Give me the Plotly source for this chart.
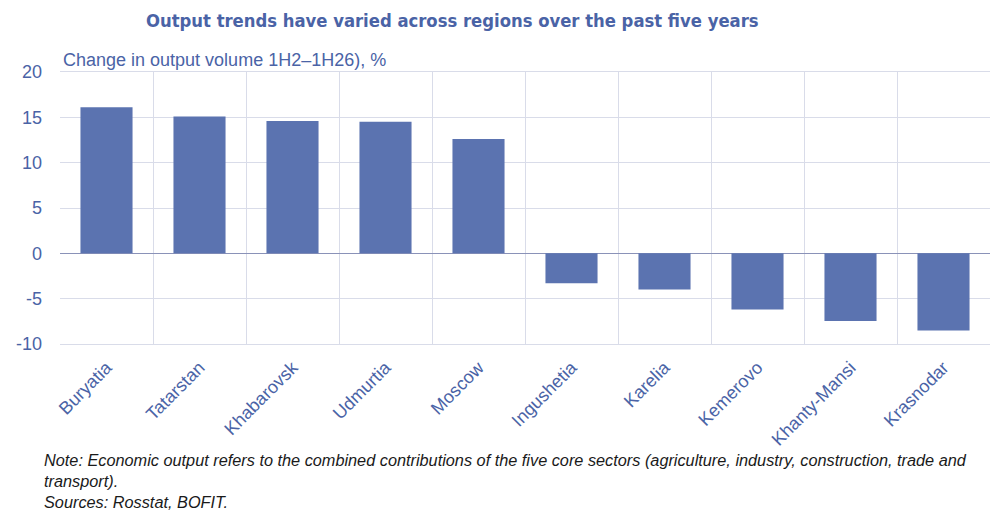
import plotly.graph_objects as go

regions = ["Buryatia", "Tatarstan", "Khabarovsk", "Udmurtia", "Moscow",
           "Ingushetia", "Karelia", "Kemerovo", "Khanty-Mansi", "Krasnodar"]
change_pct = [16.1, 15.1, 14.6, 14.5, 12.6, -3.3, -4.0, -6.2, -7.45, -8.5]
y_ticks = [-10, -5, 0, 5, 10, 15, 20]
y_tick_text = ["-10", "-5", "0", "5", "10", "15", "20"]

BAR = "#5b73b0"
TXT = "#4a63a6"
GRID = "#d9dce9"

fig = go.Figure(go.Bar(x=regions, y=change_pct, marker=dict(color=BAR, line=dict(width=0)),
                       width=0.56))

fig.update_layout(
    width=998, height=520,
    margin=dict(l=52, r=16, t=64, b=184),
    paper_bgcolor="white", plot_bgcolor="white",
    showlegend=False,
    font=dict(family="Liberation Sans, Arial, sans-serif", color=TXT),
)
fig.update_xaxes(
    tickson="boundaries", showgrid=True, gridcolor=GRID, gridwidth=1,
    tickangle=-45, tickfont=dict(size=18, color=TXT),
    ticks="", showline=True, linecolor=GRID, mirror=True,
    ticklabelstandoff=5, automargin=False,
)
fig.update_yaxes(
    range=[-10, 20], tickvals=y_ticks, ticktext=y_tick_text,
    showgrid=True, gridcolor=GRID, gridwidth=1,
    zeroline=True, zerolinecolor="#8a92b8", zerolinewidth=1,
    tickfont=dict(size=18, color=TXT), ticks="", ticklabelstandoff=17,
    showline=False, automargin=False,
)

fig.add_annotation(text="<b>Output trends have varied across regions over the past five years</b>",
                   xref="paper", yref="paper", x=(452 - 60) / 930, xanchor="center",
                   y=(344 - 20) / 272, yanchor="middle", showarrow=False,
                   font=dict(family="DejaVu Sans Condensed, Liberation Sans, sans-serif", size=18.3, color=TXT))
fig.add_annotation(text="Change in output volume 1H2–1H26), %",
                   xref="paper", yref="paper", x=(61 - 60) / 930, xanchor="left",
                   y=(344 - 60) / 272, yanchor="middle", showarrow=False,
                   font=dict(size=18, color=TXT))
fig.add_annotation(text="<i>Note: Economic output refers to the combined contributions of the five core sectors (agriculture, industry, construction, trade and<br>transport).<br>Sources: Rosstat, BOFIT.</i>",
                   xref="paper", yref="paper", x=(42 - 60) / 930, xanchor="left",
                   y=(344 - 449) / 272, yanchor="top", showarrow=False, align="left",
                   font=dict(family="Liberation Sans, sans-serif", size=16.3, color="#1a1a1a"))

fig.write_html("out.html")
